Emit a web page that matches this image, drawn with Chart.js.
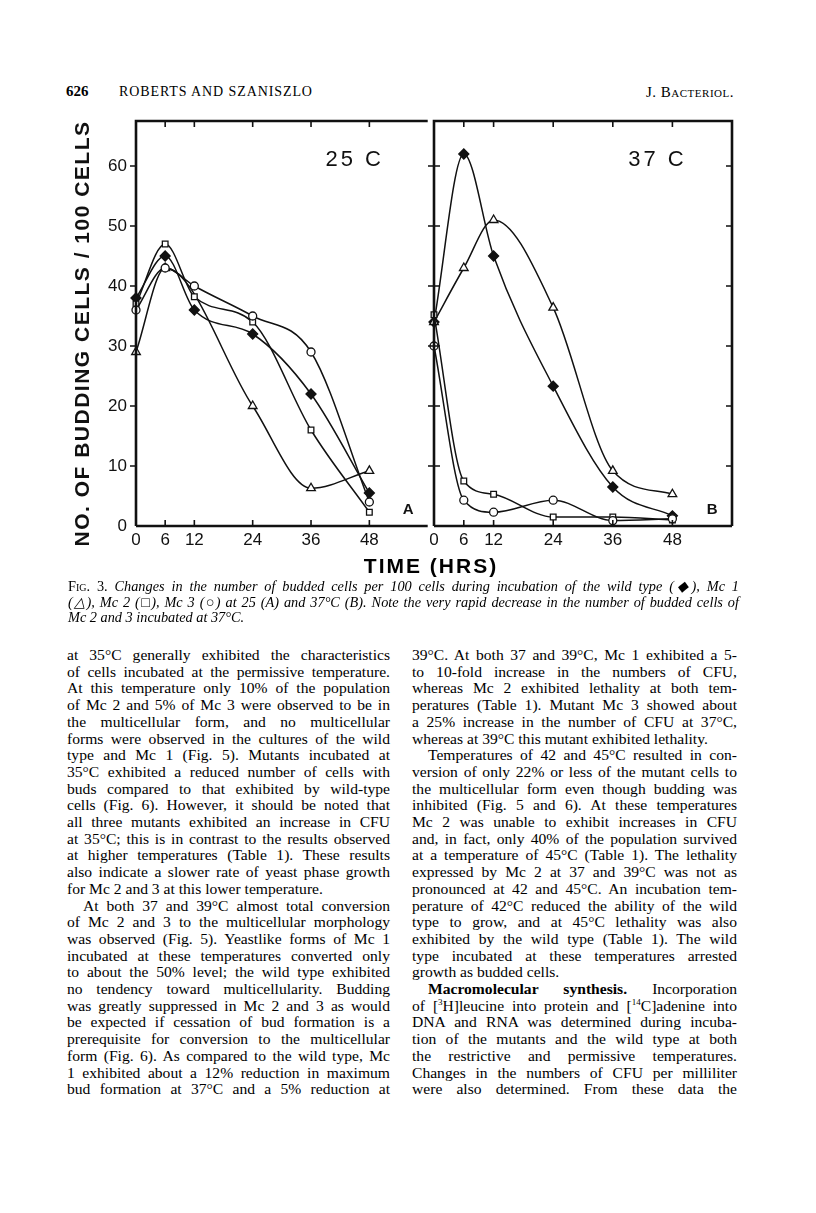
<!DOCTYPE html>
<html lang="en">
<head>
<meta charset="UTF-8">
<title>Fig. 3 - Budded cells per 100 cells</title>
<script src="https://cdn.jsdelivr.net/npm/chart.js"></script>
<style>
    body {
        margin: 0;
        width: 816px;
        height: 1213px;
        position: relative;
        background: #fff;
        color: #000;
        font-family: 'Liberation Serif', serif;
        overflow: hidden;
    }

    .abs { position: absolute; }

    canvas { position: absolute; }

    #pageNo { left: 66px; top: 83px; font-size: 15px; font-weight: bold; }
    #authors { left: 119px; top: 84px; font-size: 14px; letter-spacing: 0.9px; }
    #journal { left: 646px; top: 84px; font-size: 15px; font-variant: small-caps; letter-spacing: 0.5px; }

    #xTitle {
        left: 300px; width: 262px; top: 554px;
        text-align: center;
        font-family: 'Liberation Sans', sans-serif;
        font-weight: bold; font-size: 21px; letter-spacing: 2px;
    }

    #caption {
        left: 68px; width: 671px; top: 579px;
        font-size: 14.3px; line-height: 15.5px; font-style: italic;
    }
    #caption .sc { font-style: normal; font-variant: small-caps; }

    .col { top: 647px; font-size: 15.6px; line-height: 16.7px; }
    #colLeft { left: 67px; width: 323px; }
    #colRight { left: 412px; width: 325px; }

    .ln { white-space: nowrap; text-align: justify; text-align-last: justify; }
    .ln.end { text-align-last: left; }
    .ln.ind { padding-left: 16px; }
    sup { font-size: 9px; line-height: 0; }
</style>
</head>
<body>
    <!-- running head -->
    <div class="abs" id="pageNo">626</div>
    <div class="abs" id="authors">ROBERTS AND SZANISZLO</div>
    <div class="abs" id="journal">J. Bacteriol.</div>

    <!-- two panels of the figure -->
    <canvas id="chart25" width="384" height="470" style="left:50px; top:100px;"></canvas>
    <canvas id="chart37" width="316" height="470" style="left:424px; top:100px;"></canvas>
    <div class="abs" id="xTitle">TIME (HRS)</div>

    <div class="abs" id="caption">
        <div class="ln"><span><span class="sc">Fig. 3.</span> Changes in the number of budded cells per 100 cells during incubation of the wild type (◆), Mc 1</span></div>
        <div class="ln"><span>(△), Mc 2 (□), Mc 3 (○) at 25 (A) and 37°C (B). Note the very rapid decrease in the number of budded cells of</span></div>
        <div class="ln end"><span>Mc 2 and 3 incubated at 37°C.</span></div>
    </div>

    <!-- body text -->
    <div class="abs col" id="colLeft">
        <div class="ln"><span>at 35°C generally exhibited the characteristics</span></div>
        <div class="ln"><span>of cells incubated at the permissive temperature.</span></div>
        <div class="ln"><span>At this temperature only 10% of the population</span></div>
        <div class="ln"><span>of Mc 2 and 5% of Mc 3 were observed to be in</span></div>
        <div class="ln"><span>the multicellular form, and no multicellular</span></div>
        <div class="ln"><span>forms were observed in the cultures of the wild</span></div>
        <div class="ln"><span>type and Mc 1 (Fig. 5). Mutants incubated at</span></div>
        <div class="ln"><span>35°C exhibited a reduced number of cells with</span></div>
        <div class="ln"><span>buds compared to that exhibited by wild-type</span></div>
        <div class="ln"><span>cells (Fig. 6). However, it should be noted that</span></div>
        <div class="ln"><span>all three mutants exhibited an increase in CFU</span></div>
        <div class="ln"><span>at 35°C; this is in contrast to the results observed</span></div>
        <div class="ln"><span>at higher temperatures (Table 1). These results</span></div>
        <div class="ln"><span>also indicate a slower rate of yeast phase growth</span></div>
        <div class="ln end"><span>for Mc 2 and 3 at this lower temperature.</span></div>
        <div class="ln ind"><span>At both 37 and 39°C almost total conversion</span></div>
        <div class="ln"><span>of Mc 2 and 3 to the multicellular morphology</span></div>
        <div class="ln"><span>was observed (Fig. 5). Yeastlike forms of Mc 1</span></div>
        <div class="ln"><span>incubated at these temperatures converted only</span></div>
        <div class="ln"><span>to about the 50% level; the wild type exhibited</span></div>
        <div class="ln"><span>no tendency toward multicellularity. Budding</span></div>
        <div class="ln"><span>was greatly suppressed in Mc 2 and 3 as would</span></div>
        <div class="ln"><span>be expected if cessation of bud formation is a</span></div>
        <div class="ln"><span>prerequisite for conversion to the multicellular</span></div>
        <div class="ln"><span>form (Fig. 6). As compared to the wild type, Mc</span></div>
        <div class="ln"><span>1 exhibited about a 12% reduction in maximum</span></div>
        <div class="ln"><span>bud formation at 37°C and a 5% reduction at</span></div>
    </div>

    <div class="abs col" id="colRight">
        <div class="ln"><span>39°C. At both 37 and 39°C, Mc 1 exhibited a 5-</span></div>
        <div class="ln"><span>to 10-fold increase in the numbers of CFU,</span></div>
        <div class="ln"><span>whereas Mc 2 exhibited lethality at both tem-</span></div>
        <div class="ln"><span>peratures (Table 1). Mutant Mc 3 showed about</span></div>
        <div class="ln"><span>a 25% increase in the number of CFU at 37°C,</span></div>
        <div class="ln end"><span>whereas at 39°C this mutant exhibited lethality.</span></div>
        <div class="ln ind"><span>Temperatures of 42 and 45°C resulted in con-</span></div>
        <div class="ln"><span>version of only 22% or less of the mutant cells to</span></div>
        <div class="ln"><span>the multicellular form even though budding was</span></div>
        <div class="ln"><span>inhibited (Fig. 5 and 6). At these temperatures</span></div>
        <div class="ln"><span>Mc 2 was unable to exhibit increases in CFU</span></div>
        <div class="ln"><span>and, in fact, only 40% of the population survived</span></div>
        <div class="ln"><span>at a temperature of 45°C (Table 1). The lethality</span></div>
        <div class="ln"><span>expressed by Mc 2 at 37 and 39°C was not as</span></div>
        <div class="ln"><span>pronounced at 42 and 45°C. An incubation tem-</span></div>
        <div class="ln"><span>perature of 42°C reduced the ability of the wild</span></div>
        <div class="ln"><span>type to grow, and at 45°C lethality was also</span></div>
        <div class="ln"><span>exhibited by the wild type (Table 1). The wild</span></div>
        <div class="ln"><span>type incubated at these temperatures arrested</span></div>
        <div class="ln end"><span>growth as budded cells.</span></div>
        <div class="ln ind"><span><b>Macromolecular synthesis.</b> Incorporation</span></div>
        <div class="ln"><span>of [<sup>3</sup>H]leucine into protein and [<sup>14</sup>C]adenine into</span></div>
        <div class="ln"><span>DNA and RNA was determined during incuba-</span></div>
        <div class="ln"><span>tion of the mutants and the wild type at both</span></div>
        <div class="ln"><span>the restrictive and permissive temperatures.</span></div>
        <div class="ln"><span>Changes in the numbers of CFU per milliliter</span></div>
        <div class="ln"><span>were also determined. From these data the</span></div>
    </div>

<script>
    // sampling times (hrs) and axis ticks
    const hours = [0, 6, 12, 24, 36, 48];
    const xTicks = [0, 6, 12, 24, 36, 48];
    const yTicks = [0, 10, 20, 30, 40, 50, 60];
    const yTitle = 'NO. OF BUDDING CELLS / 100 CELLS';

    // panel A: 25 C (budded cells per 100 cells)
    const wild25 = [38, 45, 36, 32, 22, 5.5];
    const mc1_25 = [29, 43, null, 20, 6.3, 9.2];
    const mc2_25 = [37, 47, 38.2, 34, 16, 2.3];
    const mc3_25 = [36, 43, 40, 35, 29, 4];

    // panel B: 37 C
    const wild37 = [34, 62, 45, 23.3, 6.5, 1.7];
    const mc1_37 = [34, 43, 51, 36.4, 9.2, 5.3];
    const mc2_37 = [35.2, 7.5, 5.3, 1.5, 1.5, 1];
    const mc3_37 = [30, 4.3, 2.3, 4.3, 0.9, 1.2];

    const ink = '#111';
    Chart.defaults.font.family = "'Liberation Sans', sans-serif";
    Chart.defaults.color = ink;

    function series(values, style, filled, radius) {
        return {
            data: hours.map((h, i) => ({ x: h, y: values[i] })),
            borderColor: ink,
            borderWidth: 1.5,
            cubicInterpolationMode: 'monotone',
            spanGaps: true,
            pointStyle: style,
            pointRadius: radius,
            pointBorderWidth: 1.3,
            pointBorderColor: ink,
            pointBackgroundColor: filled ? ink : '#fff',
            clip: false
        };
    }

    // frame, inward ticks, axis title and panel labels
    const framePlugin = {
        id: 'frame',
        afterDraw(chart, args, opts) {
            const { ctx, chartArea: a, scales: { x, y } } = chart;
            ctx.save();
            ctx.strokeStyle = ink;
            ctx.lineWidth = 1.6;
            ctx.beginPath();
            xTicks.forEach(v => {
                if (v === 0) return;
                const px = x.getPixelForValue(v);
                ctx.moveTo(px, a.top); ctx.lineTo(px, a.top + 6);
                ctx.moveTo(px, a.bottom); ctx.lineTo(px, a.bottom - 6);
            });
            yTicks.forEach(v => {
                if (v === 0) return;
                const py = y.getPixelForValue(v);
                if (opts.leftOut || opts.leftIn) {
                    ctx.moveTo(a.left - opts.leftOut, py); ctx.lineTo(a.left + opts.leftIn, py);
                }
                if (opts.rightIn) {
                    ctx.moveTo(a.right - opts.rightIn, py); ctx.lineTo(a.right, py);
                }
            });
            ctx.stroke();

            ctx.lineWidth = 2.6;
            ctx.beginPath();
            ctx.moveTo(a.left, a.bottom); ctx.lineTo(a.left, a.top); ctx.lineTo(a.right, a.top);
            if (opts.rightBorder) ctx.lineTo(a.right, a.bottom);
            ctx.moveTo(a.left, a.bottom); ctx.lineTo(a.right, a.bottom);
            ctx.stroke();

            ctx.fillStyle = ink;
            ctx.textAlign = 'center';
            ctx.textBaseline = 'middle';
            if (opts.title) {
                ctx.save();
                ctx.translate(33, (a.top + a.bottom) / 2 + 10);
                ctx.rotate(-Math.PI / 2);
                ctx.letterSpacing = '1.5px';
                ctx.font = "bold 21px 'Liberation Sans', sans-serif";
                ctx.fillText(opts.title, 0, 0);
                ctx.restore();
            }
            ctx.letterSpacing = '3px';
            ctx.font = "22px 'Liberation Sans', sans-serif";
            ctx.fillText(opts.label, x.getPixelForValue(45), y.getPixelForValue(61));
            ctx.letterSpacing = '0px';
            ctx.font = "bold 15px 'Liberation Sans', sans-serif";
            ctx.fillText(opts.letter, x.getPixelForValue(56), y.getPixelForValue(2.7));
            ctx.restore();
        }
    };

    function xAxis() {
        return {
            type: 'linear', min: 0, max: 60,
            grid: { display: false, drawTicks: false },
            border: { display: false },
            afterBuildTicks: s => { s.ticks = xTicks.map(v => ({ value: v })); },
            afterFit: s => { s.height = 44; },
            ticks: { autoSkip: false, maxRotation: 0, padding: 4, font: { size: 17 } }
        };
    }

    const baseOptions = {
        responsive: false,
        animation: false,
        events: [],
        plugins: { legend: { display: false }, tooltip: { enabled: false } }
    };

    const datasets25 = [
        series(mc3_25, 'circle', false, 4),
        series(mc2_25, 'rect', false, 4),
        series(mc1_25, 'triangle', false, 5),
        series(wild25, 'rectRot', true, 5)
    ];
    const datasets37 = [
        series(mc3_37, 'circle', false, 4),
        series(mc2_37, 'rect', false, 4),
        series(mc1_37, 'triangle', false, 5),
        series(wild37, 'rectRot', true, 5)
    ];

    // Panel A
    new Chart(document.getElementById('chart25'), {
        type: 'line',
        data: { datasets: datasets25 },
        options: {
            ...baseOptions,
            layout: { padding: { top: 21, right: 0 } },
            plugins: { ...baseOptions.plugins, frame: { label: '25 C', letter: 'A', title: yTitle, leftOut: 6, leftIn: 0, rightIn: 0, rightBorder: false } },
            scales: {
                x: xAxis(),
                y: {
                    type: 'linear', min: 0, max: 67.5,
                    grid: { display: false, drawTicks: false },
                    border: { display: false },
                    afterBuildTicks: s => { s.ticks = yTicks.map(v => ({ value: v })); },
                    afterFit: s => { s.width = 86; },
                    ticks: { padding: 9, font: { size: 17 } }
                }
            }
        },
        plugins: [framePlugin]
    });

    // Panel B
    new Chart(document.getElementById('chart37'), {
        type: 'line',
        data: { datasets: datasets37 },
        options: {
            ...baseOptions,
            layout: { padding: { top: 21, left: 10, right: 8 } },
            plugins: { ...baseOptions.plugins, frame: { label: '37 C', letter: 'B', leftOut: 6, leftIn: 6, rightIn: 6, rightBorder: true } },
            scales: {
                x: xAxis(),
                y: { type: 'linear', min: 0, max: 67.5, display: false }
            }
        },
        plugins: [framePlugin]
    });

    // squeeze justified lines that are wider than their column
    document.querySelectorAll('.ln').forEach(ln => {
        const span = ln.firstElementChild;
        const avail = ln.clientWidth - parseFloat(getComputedStyle(ln).paddingLeft);
        const w = span.getBoundingClientRect().width;
        if (w > avail) {
            span.style.letterSpacing = ((avail - w) / span.textContent.length) + 'px';
        }
    });
</script>
</body>
</html>
